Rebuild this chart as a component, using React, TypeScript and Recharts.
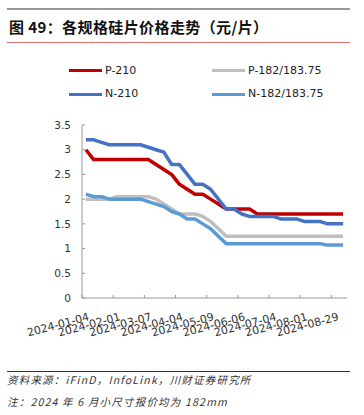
import React from "react"
import { LineChart, Line, XAxis, YAxis } from "recharts"

// weekly quotes (yuan / wafer)
const dates = [
  "2024-01-04", "2024-01-11", "2024-01-18", "2024-01-25", "2024-02-01", "2024-02-08",
  "2024-02-22", "2024-02-29", "2024-03-07", "2024-03-14", "2024-03-21", "2024-03-28",
  "2024-04-04", "2024-04-11", "2024-04-18", "2024-04-25", "2024-05-09", "2024-05-16",
  "2024-05-23", "2024-05-30", "2024-06-06", "2024-06-13", "2024-06-20", "2024-06-27",
  "2024-07-04", "2024-07-11", "2024-07-18", "2024-07-25", "2024-08-01", "2024-08-08",
  "2024-08-15", "2024-08-22", "2024-08-29", "2024-09-05",
]
const p210 = [
  3.0, 2.8, 2.8, 2.8, 2.8, 2.8, 2.8, 2.8, 2.8, 2.7, 2.6, 2.5, 2.3, 2.2, 2.1, 2.1, 2.0,
  1.9, 1.8, 1.8, 1.8, 1.8, 1.7, 1.7, 1.7, 1.7, 1.7, 1.7, 1.7, 1.7, 1.7, 1.7, 1.7, 1.7,
]
const p182 = [
  2.0, 2.0, 2.0, 2.0, 2.05, 2.05, 2.05, 2.05, 2.05, 2.0, 1.9, 1.8, 1.7, 1.7, 1.7, 1.65,
  1.55, 1.4, 1.25, 1.25, 1.25, 1.25, 1.25, 1.25, 1.25, 1.25, 1.25, 1.25, 1.25, 1.25,
  1.25, 1.25, 1.25, 1.25,
]
const n210 = [
  3.2, 3.2, 3.15, 3.1, 3.1, 3.1, 3.1, 3.1, 3.05, 3.0, 2.95, 2.7, 2.7, 2.5, 2.3, 2.3, 2.2,
  2.0, 1.8, 1.8, 1.7, 1.65, 1.65, 1.65, 1.65, 1.6, 1.6, 1.6, 1.55, 1.55, 1.55, 1.5, 1.5,
  1.5,
]
const n182 = [
  2.1, 2.05, 2.05, 2.0, 2.0, 2.0, 2.0, 2.0, 1.95, 1.9, 1.85, 1.75, 1.7, 1.6, 1.6, 1.5,
  1.4, 1.25, 1.1, 1.1, 1.1, 1.1, 1.1, 1.1, 1.1, 1.1, 1.1, 1.1, 1.1, 1.1, 1.1, 1.07,
  1.07, 1.07,
]
const yTicks = [0, 0.5, 1, 1.5, 2, 2.5, 3, 3.5]

const series = [
  { key: "p210", name: "P-210", color: "#C00000" },
  { key: "p182", name: "P-182/183.75", color: "#BFBFBF" },
  { key: "n210", name: "N-210", color: "#4472C4" },
  { key: "n182", name: "N-182/183.75", color: "#5B9BD5" },
]

const data = dates.map((d, i) => ({
  date: d,
  p210: p210[i],
  p182: p182[i],
  n210: n210[i],
  n182: n182[i],
}))

const plotW = 265
const step = plotW / dates.length
const axisFont = "'DejaVu Sans', sans-serif"
const cjkFont = "'Noto Sans CJK SC', sans-serif"

const XTick = (props: any) => {
  const { x, y, payload } = props
  const tx = x + 4
  const ty = y + 22
  return (
    <g>
      <line x1={x - step / 2} x2={x - step / 2} y1={y} y2={y - 3} stroke="#999" />
      <text
        x={tx}
        y={ty}
        transform={`rotate(-15, ${tx}, ${ty})`}
        textAnchor="end"
        fontSize={11}
        fontFamily={axisFont}
        fill="#333"
      >
        {payload.value}
      </text>
    </g>
  )
}

const YTick = (props: any) => {
  const { x, y, payload } = props
  return (
    <g>
      <line x1={x} x2={x + 3} y1={y} y2={y} stroke="#999" />
      <text
        x={x - 11}
        y={y}
        dy="0.35em"
        textAnchor="end"
        fontSize={10.5}
        fontFamily={axisFont}
        fill="#333"
      >
        {payload.value}
      </text>
    </g>
  )
}

const legendPos = [
  { left: 69, top: 70.7 },
  { left: 212, top: 70.7 },
  { left: 69, top: 94.3 },
  { left: 212, top: 94.3 },
]

const footStyle: React.CSSProperties = {
  position: "absolute",
  left: 7,
  lineHeight: "14px",
  fontSize: 10.5,
  fontStyle: "italic",
  letterSpacing: 1.2,
  fontFamily: cjkFont,
  color: "#333",
  whiteSpace: "nowrap",
}

export default function App() {
  return (
    <div style={{ position: "absolute", left: 0, top: 0, width: 364, height: 415, background: "#fff" }}>
      <div style={{ position: "absolute", left: 7, top: 8, width: 343, height: 2, background: "#999" }} />
      <div
        style={{
          position: "absolute",
          left: 9,
          top: 18,
          height: 18,
          lineHeight: "18px",
          fontSize: 15,
          fontWeight: "bold",
          letterSpacing: 0.4,
          fontFamily: cjkFont,
          color: "#111",
          whiteSpace: "nowrap",
        }}
      >
        图 49：各规格硅片价格走势（元/片）
      </div>
      <div style={{ position: "absolute", left: 7, top: 42, width: 343, height: 1, background: "#E07070" }} />

      {series.map((s, i) => (
        <div key={s.key}>
          <div
            style={{
              position: "absolute",
              left: legendPos[i].left,
              top: legendPos[i].top - 1.5,
              width: 33,
              height: 3,
              background: s.color,
            }}
          />
          <div
            style={{
              position: "absolute",
              left: legendPos[i].left + 36,
              top: legendPos[i].top - 7,
              lineHeight: "14px",
              fontSize: 11,
              fontFamily: axisFont,
              color: "#222",
              whiteSpace: "nowrap",
            }}
          >
            {s.name}
          </div>
        </div>
      ))}

      <div style={{ position: "absolute", left: 0, top: 0 }}>
        <LineChart
          width={364}
          height={415}
          data={data}
          margin={{ top: 125, right: 17, bottom: 87, left: 42 }}
        >
          <XAxis
            dataKey="date"
            height={30}
            interval={3}
            padding={{ left: step / 2, right: step / 2 }}
            tickSize={0}
            tickMargin={0}
            tickLine={false}
            stroke="#999"
            tick={<XTick />}
          />
          <YAxis
            width={40}
            domain={[0, 3.5]}
            ticks={yTicks}
            tickSize={0}
            tickMargin={0}
            tickLine={false}
            stroke="#999"
            tick={<YTick />}
          />
          {series.map((s) => (
            <Line
              key={s.key}
              dataKey={s.key}
              name={s.name}
              stroke={s.color}
              strokeWidth={3.5}
              dot={false}
              type="linear"
              strokeLinejoin="round"
              isAnimationActive={false}
            />
          ))}
        </LineChart>
      </div>

      <div style={{ position: "absolute", left: 7, top: 371, width: 343, height: 1, background: "#333" }} />
      <div style={{ ...footStyle, top: 373 }}>资料来源：iFinD，InfoLink，川财证券研究所</div>
      <div style={{ ...footStyle, top: 395 }}>注：2024 年 6 月小尺寸报价均为 182mm</div>
    </div>
  )
}
